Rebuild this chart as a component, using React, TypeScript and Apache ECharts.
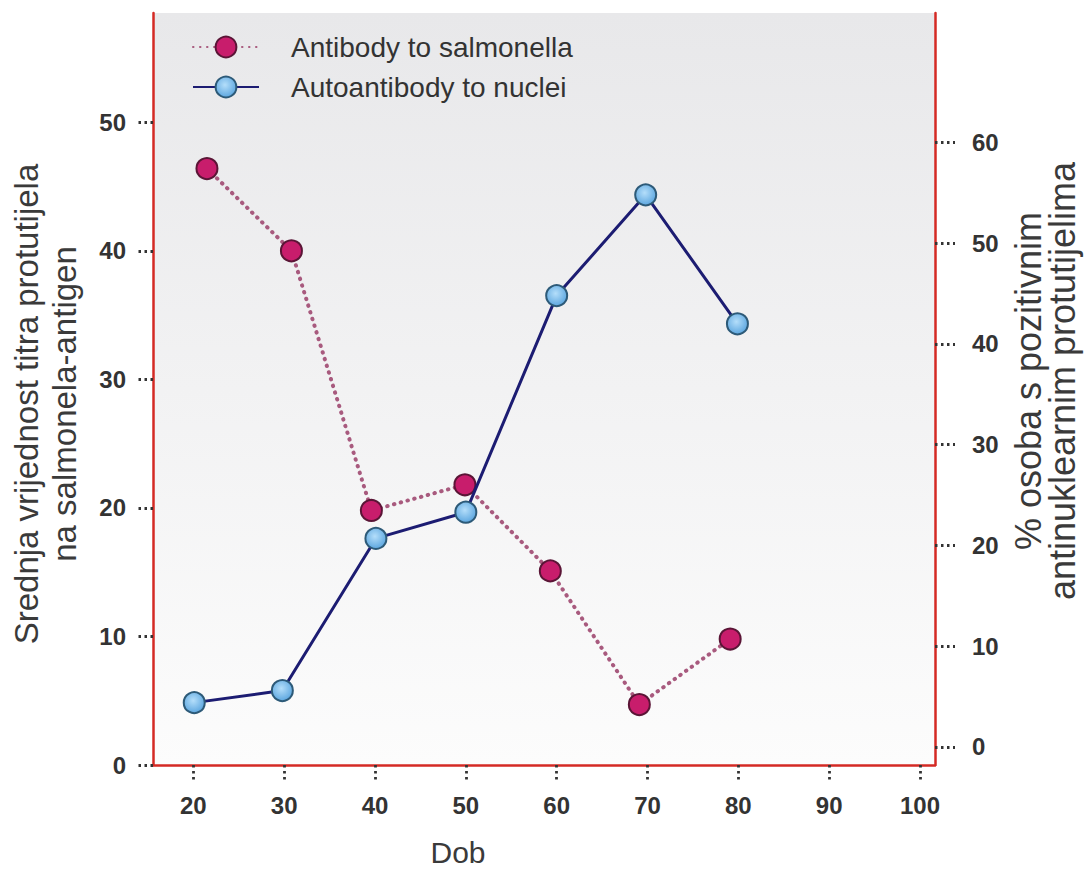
import React, { useEffect, useRef } from "react";
import * as echarts from "echarts";

// Antibody to salmonella (left axis: mean titre)
const salmonellaAge = [21.5, 30.8, 39.6, 49.9, 59.3, 69.1, 79.1];
const salmonellaTitre = [46.4, 40.0, 19.8, 21.8, 15.1, 4.7, 9.8];

// Autoantibody to nuclei (right axis: % persons)
const nucleiAge = [20.1, 29.8, 40.1, 50.0, 60.0, 69.8, 79.9];
const nucleiPercent = [4.4, 5.6, 20.7, 23.3, 44.8, 54.8, 42.0];

const xTicks = [20, 30, 40, 50, 60, 70, 80, 90, 100];
const leftTicks = [0, 10, 20, 30, 40, 50];
const rightTicks = [0, 10, 20, 30, 40, 50, 60];

const seriesNames = ["Antibody to salmonella", "Autoantibody to nuclei"];
const xName = "Dob";
const leftName = "Srednja vrijednost titra protutijela\nna salmonela-antigen";
const rightName = "% osoba s pozitivnim\nantinuklearnim protutijelima";

const FONT = "'Liberation Sans', Arial, Helvetica, sans-serif";

export default function App() {
  const ref = useRef<HTMLDivElement>(null);
  useEffect(() => {
    if (!ref.current) return;
    const chart = echarts.init(ref.current, undefined, { renderer: "svg" });
    const tickLine = { type: [2.5, 3.5], width: 2.8, color: "#333" };
    const axisLine = { show: true, lineStyle: { color: "#d42a24", width: 2.5 } };
    const labelStyle = {
      fontFamily: FONT,
      fontSize: 24,
      fontWeight: "bold",
      color: "#333",
    };
    chart.setOption({
      animation: false,
      backgroundColor: "#ffffff",
      grid: {
        left: 153,
        right: 151,
        top: 13,
        bottom: 105,
        containLabel: false,
        outerBoundsMode: "none",
        show: true,
        borderWidth: 0,
        backgroundColor: {
          type: "linear",
          x: 0,
          y: 0,
          x2: 0,
          y2: 1,
          colorStops: [
            { offset: 0, color: "#e8e8ea" },
            { offset: 0.5, color: "#f2f2f3" },
            { offset: 1, color: "#fcfcfc" },
          ],
        },
      },
      legend: {
        orient: "vertical",
        left: 187,
        top: 28,
        itemWidth: 66,
        itemHeight: 26,
        itemGap: 12,
        data: seriesNames,
        textStyle: {
          fontFamily: FONT,
          fontSize: 28,
          color: "#333",
          padding: [0, 0, 0, 27],
        },
      },
      xAxis: {
        type: "value",
        min: 15.56,
        max: 101.65,
        name: xName,
        nameLocation: "middle",
        nameGap: 72,
        nameTextStyle: {
          fontFamily: FONT,
          fontSize: 30,
          lineHeight: 30,
          color: "#3a3a3a",
          padding: [0, 172, 0, 0],
        },
        axisLine,
        axisTick: {
          show: true,
          length: 17,
          customValues: xTicks,
          lineStyle: tickLine,
        },
        axisLabel: { ...labelStyle, margin: 28, customValues: xTicks },
        splitLine: { show: false },
      },
      yAxis: [
        {
          type: "value",
          position: "left",
          min: 0,
          max: 58.5,
          name: leftName,
          nameLocation: "middle",
          nameRotate: 90,
          nameGap: 70,
          nameTextStyle: {
            fontFamily: FONT,
            fontSize: 33,
            lineHeight: 38,
            color: "#3a3a3a",
            padding: [0, 30, 0, 0],
          },
          axisLine,
          axisTick: {
            show: true,
            length: 16,
            customValues: leftTicks,
            lineStyle: tickLine,
          },
          axisLabel: { ...labelStyle, margin: 27, customValues: leftTicks },
          splitLine: { show: false },
        },
        {
          type: "value",
          position: "right",
          min: -1.79,
          max: 72.85,
          name: rightName,
          nameLocation: "middle",
          nameRotate: 90,
          nameGap: 76,
          nameTextStyle: {
            fontFamily: FONT,
            fontSize: 36,
            lineHeight: 34,
            color: "#3a3a3a",
            padding: [0, 0, 0, 16],
          },
          axisLine,
          axisTick: {
            show: true,
            length: 20,
            customValues: rightTicks,
            lineStyle: tickLine,
          },
          axisLabel: { ...labelStyle, margin: 37, customValues: rightTicks },
          splitLine: { show: false },
        },
      ],
      series: [
        {
          name: seriesNames[0],
          type: "line",
          yAxisIndex: 0,
          data: salmonellaAge.map((x, i) => [x, salmonellaTitre[i]]),
          symbol: "circle",
          symbolSize: 21,
          lineStyle: { color: "#a85a7e", width: 4, type: [0.5, 6.5], cap: "round" },
          itemStyle: { color: "#c81d6c", borderColor: "#5a1536", borderWidth: 2 },
          z: 2,
        },
        {
          name: seriesNames[1],
          type: "line",
          yAxisIndex: 1,
          data: nucleiAge.map((x, i) => [x, nucleiPercent[i]]),
          symbol: "circle",
          symbolSize: 21,
          lineStyle: { color: "#1c1c72", width: 3 },
          itemStyle: {
            color: {
              type: "radial",
              x: 0.45,
              y: 0.4,
              r: 0.6,
              colorStops: [
                { offset: 0, color: "#b4defa" },
                { offset: 1, color: "#5ca6df" },
              ],
            },
            borderColor: "#2d5a78",
            borderWidth: 2,
          },
          z: 3,
        },
      ],
    });
    return () => chart.dispose();
  }, []);
  return (
    <div
      ref={ref}
      style={{ position: "fixed", left: 0, top: 0, width: 1086, height: 870 }}
    />
  );
}
